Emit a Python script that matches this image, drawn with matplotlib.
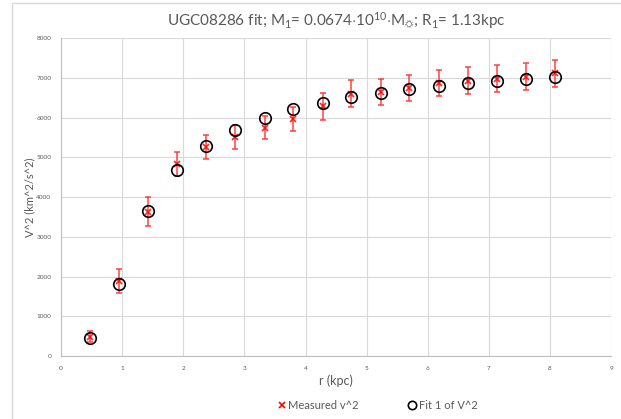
import numpy as np
import matplotlib
matplotlib.use('Agg')
import matplotlib.pyplot as plt
from matplotlib.patches import Rectangle
from matplotlib.lines import Line2D

# data
r_kpc = [0.48, 0.95, 1.43, 1.90, 2.38, 2.85, 3.33, 3.80, 4.28, 4.75, 5.23, 5.70, 6.18, 6.65, 7.13, 7.60, 8.08]
v2_measured = [480, 1880, 3630, 4840, 5260, 5520, 5740, 5960, 6280, 6600, 6650, 6750, 6880, 6930, 6980, 7030, 7120]
v2_err = [140, 300, 360, 300, 290, 300, 290, 300, 330, 340, 330, 330, 325, 335, 345, 345, 340]
v2_fit = [450, 1820, 3640, 4680, 5290, 5690, 5980, 6210, 6370, 6510, 6630, 6720, 6800, 6870, 6930, 6980, 7030]

grey = '#595959'
plt.rcParams['font.family'] = ['Lato', 'DejaVu Sans']
plt.rcParams['mathtext.fontset'] = 'custom'
plt.rcParams['mathtext.rm'] = 'Lato'
plt.rcParams['mathtext.it'] = 'Lato:italic'

fig = plt.figure(figsize=(6.21, 4.19), dpi=100)
ax = fig.add_axes([0.0982, 0.1504, 0.886, 0.7586])

# chart frame (light border like the spreadsheet chart area)
fig.patches.append(Rectangle((12 / 621, -0.05), 1.0, 1.05 - 3 / 419, transform=fig.transFigure,
                             fill=False, edgecolor='#d9d9d9', linewidth=1.0))

ax.errorbar(r_kpc, v2_measured, yerr=v2_err, fmt='x', color='#ff0000', ecolor='#ff3333',
            elinewidth=1.2, capsize=2.5, capthick=1.2, markersize=4, markeredgewidth=1.2,
            alpha=0.85, zorder=3)
ax.plot(r_kpc, v2_fit, 'o', markerfacecolor='none', markeredgecolor='black',
        markersize=8.3, markeredgewidth=1.2, zorder=4)

ax.set_xlim(0, 9)
ax.set_ylim(0, 8000)
ax.set_xticks(range(0, 10))
ax.set_yticks(range(0, 8001, 1000))
ax.grid(True, color='#d9d9d9', linewidth=0.8)
ax.set_axisbelow(True)
for s in ['top', 'right']:
    ax.spines[s].set_visible(False)
for s in ['left', 'bottom']:
    ax.spines[s].set_color('#bfbfbf')
ax.tick_params(length=0, labelsize=4.6, colors=grey, pad=7)

ax.set_xlabel('r (kpc)', fontsize=9, color=grey, labelpad=3)
ax.set_ylabel('V^2 (km^2/s^2)', fontsize=8, color=grey)
ax.yaxis.set_label_coords(-0.046, 0.5)
ax.set_title(r'UGC08286 fit; M$_1$= 0.0674$\cdot$10$^{10}$$\cdot$M$_{☼}$; R$_1$= 1.13kpc',
             fontsize=11, color=grey, pad=9)

handles = [Line2D([], [], linestyle='none', marker='x', color='#ff0000', markersize=4, markeredgewidth=1.2),
           Line2D([], [], linestyle='none', marker='o', markerfacecolor='none', markeredgecolor='black',
                  markersize=6, markeredgewidth=1.2)]
fig.legend(handles, ['Measured v^2', 'Fit 1 of V^2'], loc='lower center', bbox_to_anchor=(0.607, -0.005),
           ncol=2, frameon=False, fontsize=8, labelcolor=grey, handletextpad=0.1,
           columnspacing=4.3, handlelength=1)

fig.savefig('out.png', dpi=100)
